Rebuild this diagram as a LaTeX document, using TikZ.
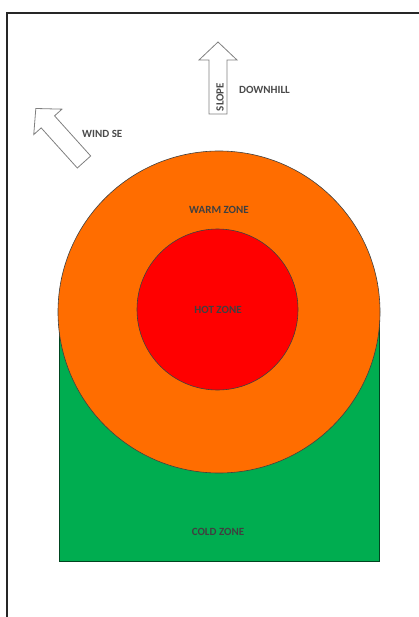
\documentclass[tikz,border=0pt]{standalone}
\usepackage{fontspec}
\setmainfont{Carlito}
\definecolor{warm}{HTML}{FF6D00}
\definecolor{hot}{HTML}{FF0000}
\definecolor{cold}{HTML}{00AD50}
\definecolor{arrowgray}{HTML}{808080}
\definecolor{labelgray}{HTML}{4A4A4A}
\begin{document}
\begin{tikzpicture}[x=1pt,y=-1pt,
  zonelabel/.style={font=\bfseries\fontsize{11}{13}\selectfont, text=black!75, inner sep=0pt},
  toplabel/.style={font=\bfseries\fontsize{11}{13}\selectfont, text=labelgray, inner sep=0pt},
  blockarrow/.style={draw=arrowgray, line width=0.8pt, fill=white, line join=miter},
  ring/.style={circle, draw=black!75, line width=0.6pt, inner sep=0pt}]
\useasboundingbox (0,0) rectangle (418,617);
% frame
\draw[line width=2pt, black!85] (420,13) -- (7,13) -- (7,620);
% cold zone
\node[draw=black!60!cold, line width=0.6pt, fill=cold, minimum width=320pt, minimum height=249pt, inner sep=0pt, anchor=north west] (cold) at (59,312) {};
% warm and hot zones
\node[ring, fill=warm, minimum size=322pt] (warm) at (219,312) {};
\node[ring, fill=hot, minimum size=161pt] (hot) at (217.5,309.5) {};
% labels
\node[zonelabel] (warmlbl) at (219,210) {WARM ZONE};
\node[zonelabel] (hotlbl) at (218,310) {HOT ZONE};
\node[zonelabel] (coldlbl) at (218,532) {COLD ZONE};
% slope arrow
\begin{scope}[shift={(218,114)}]
  \draw[blockarrow] (-9,0) -- (-9,-54) -- (-19,-54) -- (0,-72) -- (19,-54) -- (9,-54) -- (9,0) -- cycle;
\end{scope}
\node[toplabel, rotate=90] (slope) at (220,97) {SLOPE};
\node[toplabel, anchor=west] (downhill) at (239,90) {DOWNHILL};
% wind arrow
\begin{scope}[shift={(84,162)}, rotate=42]
  \draw[blockarrow] (-9,0) -- (-9,-54) -- (-19,-54) -- (0,-72) -- (19,-54) -- (9,-54) -- (9,0) -- cycle;
\end{scope}
\node[toplabel, anchor=west] (wind) at (82,134) {WIND SE};
\end{tikzpicture}
\end{document}
